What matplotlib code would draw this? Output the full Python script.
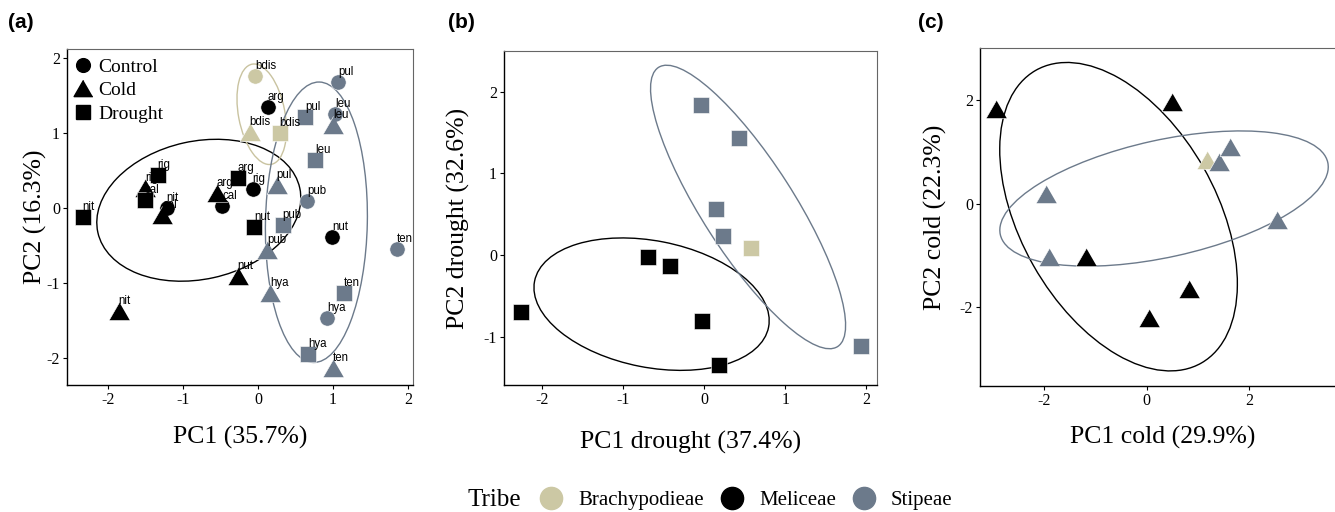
import numpy as np
import matplotlib.pyplot as plt
from matplotlib.patches import Ellipse
from matplotlib.lines import Line2D

plt.rcParams['font.family'] = ['Liberation Serif', 'DejaVu Serif']
plt.rcParams['axes.unicode_minus'] = False

# tribe colours
tribes = ['Brachypodieae', 'Meliceae', 'Stipeae']
tribe_col = {'Brachypodieae': '#CCC8A4', 'Meliceae': '#000000', 'Stipeae': '#6C7A8B'}
treat_marker = {'Control': 'o', 'Cold': [(0, 0.5), (-0.577, -0.5), (0.577, -0.5)], 'Drought': 's'}
treat_size = {'Control': 11, 'Cold': 15, 'Drought': 11.5}

# ---- panel (a): all treatments ----
a_species = ['arg', 'rig', 'cal', 'nit', 'nut',
             'arg', 'rig', 'cal', 'nut', 'nit',
             'rig', 'cal', 'nit', 'arg', 'nut',
             'bdis', 'bdis', 'bdis',
             'pul', 'leu', 'pub', 'ten', 'hya',
             'leu', 'pul', 'pub', 'hya', 'ten',
             'pul', 'leu', 'pub', 'ten', 'hya']
a_tribe = ['Meliceae'] * 15 + ['Brachypodieae'] * 3 + ['Stipeae'] * 15
a_treat = (['Control'] * 5 + ['Cold'] * 5 + ['Drought'] * 5 + ['Control', 'Cold', 'Drought']
           + ['Control'] * 5 + ['Cold'] * 5 + ['Drought'] * 5)
a_pc1 = [0.13, -0.07, -0.48, -1.22, 0.99,
         -0.55, -1.51, -1.28, -0.27, -1.86,
         -1.34, -1.51, -2.34, -0.27, -0.05,
         -0.04, -0.11, 0.29,
         1.07, 1.03, 0.66, 1.86, 0.92,
         1.00, 0.25, 0.12, 0.16, 1.00,
         0.63, 0.76, 0.33, 1.15, 0.67]
a_pc2 = [1.35, 0.25, 0.03, 0.00, -0.39,
         0.20, 0.27, -0.09, -0.91, -1.37,
         0.44, 0.11, -0.12, 0.40, -0.25,
         1.76, 1.01, 1.00,
         1.68, 1.25, 0.09, -0.55, -1.47,
         1.11, 0.31, -0.56, -1.13, -2.13,
         1.21, 0.64, -0.23, -1.13, -1.95]
# ellipse: tribe, centre x, centre y, width, height, angle
a_ell_tribe = ['Meliceae', 'Brachypodieae', 'Stipeae']
a_ell_x = [-0.79, 0.05, 0.78]
a_ell_y = [-0.03, 1.25, -0.19]
a_ell_w = [2.76, 1.36, 3.74]
a_ell_h = [1.84, 0.62, 1.36]
a_ell_ang = [12.4, 100.9, 88.8]

# ---- panel (b): drought ----
b_tribe = ['Stipeae'] * 5 + ['Brachypodieae'] + ['Meliceae'] * 5
b_pc1 = [-0.04, 0.43, 0.14, 0.23, 1.93, 0.58, -2.26, -0.69, -0.42, -0.03, 0.18]
b_pc2 = [1.84, 1.43, 0.56, 0.24, -1.11, 0.09, -0.69, -0.02, -0.13, -0.81, -1.34]
b_ell_tribe = ['Meliceae', 'Stipeae']
b_ell_x = [-0.65, 0.54]
b_ell_y = [-0.60, 0.59]
b_ell_w = [2.94, 4.07]
b_ell_h = [1.55, 1.13]
b_ell_ang = [-11.0, -57.1]

# ---- panel (c): cold ----
c_tribe = ['Meliceae'] * 5 + ['Brachypodieae'] + ['Stipeae'] * 5
c_pc1 = [-2.92, 0.50, -1.17, 0.83, 0.05, 1.17, 1.41, 1.62, -1.96, -1.90, 2.53]
c_pc2 = [1.83, 1.96, -1.03, -1.64, -2.21, 0.84, 0.80, 1.09, 0.19, -1.04, -0.32]
c_ell_tribe = ['Meliceae', 'Stipeae']
c_ell_x = [-0.545, 0.34]
c_ell_y = [-0.254, 0.096]
c_ell_w = [6.50, 6.52]
c_ell_h = [3.81, 2.26]
c_ell_ang = [-60.2, 12.3]

W, H = 1335, 512
fig = plt.figure(figsize=(W / 100, H / 100), dpi=100)


def box(l, t, r, b):
    return [l / W, 1 - b / H, (r - l) / W, (b - t) / H]


def style(ax):
    for s in ['left', 'bottom']:
        ax.spines[s].set_color('black')
        ax.spines[s].set_linewidth(1.0)
    for s in ['top', 'right']:
        ax.spines[s].set_color('#666666')
        ax.spines[s].set_linewidth(0.8)
    ax.tick_params(direction='out', length=3, width=0.8, labelsize=11.5, pad=2, colors='black')


def draw_ellipses(ax, tr, xs, ys, ws, hs, angs):
    for t, x, y, w, h, a in zip(tr, xs, ys, ws, hs, angs):
        col = '#C9C3A0' if t == 'Brachypodieae' else tribe_col[t]
        ax.add_patch(Ellipse((x, y), w, h, angle=a, fill=False, edgecolor=col, lw=1.0, zorder=1))


def draw_points(ax, x, y, tr, treat):
    for xi, yi, t, m in zip(x, y, tr, treat):
        ax.plot(xi, yi, marker=treat_marker[m], ms=treat_size[m], color=tribe_col[t],
                mec='white', mew=0.4, ls='none', zorder=3)


# (a)
ax1 = fig.add_axes(box(67, 49, 413, 385))
draw_ellipses(ax1, a_ell_tribe, a_ell_x, a_ell_y, a_ell_w, a_ell_h, a_ell_ang)
draw_points(ax1, a_pc1, a_pc2, a_tribe, a_treat)
for sp, x, y in zip(a_species, a_pc1, a_pc2):
    ax1.annotate(sp, (x, y), xytext=(0, 5), textcoords='offset points', ha='left', va='baseline',
                 fontsize=8.3, family=['Liberation Sans', 'DejaVu Sans'], zorder=4)
ax1.set_xlim(-2.55, 2.07)
ax1.set_ylim(-2.36, 2.12)
ax1.set_xticks([-2, -1, 0, 1, 2])
ax1.set_yticks([-2, -1, 0, 1, 2])
ax1.set_xlabel('PC1 (35.7%)', fontsize=18.5, va='center')
ax1.set_ylabel('PC2 (16.3%)', fontsize=18.5, va='center')
ax1.xaxis.set_label_coords(0.5, -0.155)
ax1.yaxis.set_label_coords(-0.0925, 0.5)
style(ax1)
treat_handles = [Line2D([], [], marker=treat_marker[k], ms=treat_size[k] * 0.9, color='black', ls='none')
                 for k in ['Control', 'Cold', 'Drought']]
ax1.legend(treat_handles, ['Control', 'Cold', 'Drought'], loc='upper left', bbox_to_anchor=(0.0, 0.99),
           frameon=False, fontsize=14, handlelength=1.0, handletextpad=0.3, labelspacing=0.3,
           borderpad=0.2, borderaxespad=0.1)

# (b)
ax2 = fig.add_axes(box(504, 51, 877, 385))
draw_ellipses(ax2, b_ell_tribe, b_ell_x, b_ell_y, b_ell_w, b_ell_h, b_ell_ang)
draw_points(ax2, b_pc1, b_pc2, b_tribe, ['Drought'] * len(b_pc1))
ax2.set_xlim(-2.47, 2.13)
ax2.set_ylim(-1.59, 2.50)
ax2.set_xticks([-2, -1, 0, 1, 2])
ax2.set_yticks([-1, 0, 1, 2])
ax2.set_xlabel('PC1 drought (37.4%)', fontsize=18.5, va='center')
ax2.set_ylabel('PC2 drought (32.6%)', fontsize=18.5, va='center')
ax2.xaxis.set_label_coords(0.5, -0.171)
ax2.yaxis.set_label_coords(-0.123, 0.5)
style(ax2)

# (c)
ax3 = fig.add_axes(box(980, 48, 1345, 386))
draw_ellipses(ax3, c_ell_tribe, c_ell_x, c_ell_y, c_ell_w, c_ell_h, c_ell_ang)
draw_points(ax3, c_pc1, c_pc2, c_tribe, ['Cold'] * len(c_pc1))
ax3.set_xlim(-3.24, 3.86)
ax3.set_ylim(-3.52, 3.0)
ax3.set_xticks([-2, 0, 2])
ax3.set_yticks([-2, 0, 2])
ax3.set_xlabel('PC1 cold (29.9%)', fontsize=18.5, va='center')
ax3.set_ylabel('PC2 cold (22.3%)', fontsize=18.5, va='center')
ax3.xaxis.set_label_coords(0.5, -0.152)
ax3.yaxis.set_label_coords(-0.123, 0.5)
style(ax3)

# panel tags
for lab, x in zip(['(a)', '(b)', '(c)'], [8, 448, 918]):
    fig.text(x / W, 1 - 22 / H, lab, fontsize=15, fontweight='bold',
             family=['Liberation Sans', 'DejaVu Sans'], va='center', ha='left')

# tribe legend
fig.text(467 / W, 1 - 500 / H, 'Tribe', fontsize=18, va='center', ha='left')
tribe_handles = [Line2D([], [], marker='o', ms=16, color=tribe_col[t], ls='none') for t in tribes]
fig.legend(tribe_handles, tribes, loc='center left', bbox_to_anchor=(540.6 / W, 1 - 500 / H),
           ncol=3, frameon=False, fontsize=15, handlelength=1.0, handletextpad=0.8,
           columnspacing=0.85, borderpad=0, borderaxespad=0)

fig.savefig('out.png', dpi=100)
